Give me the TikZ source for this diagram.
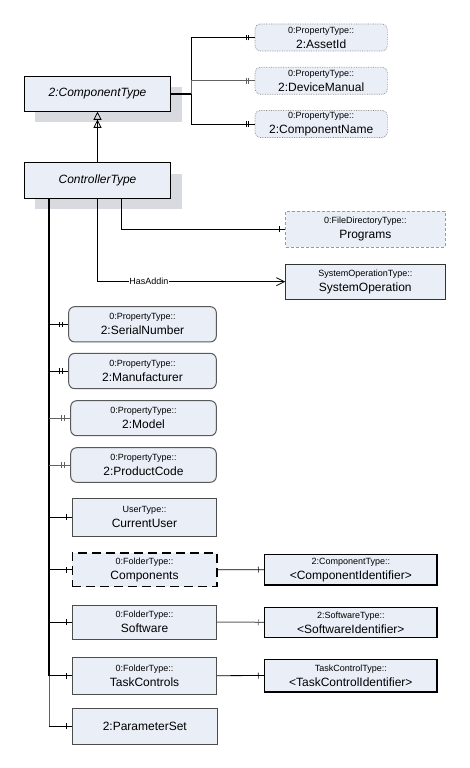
\documentclass[tikz,border=0pt]{standalone}
\usepackage{fontspec}
\setmainfont{Liberation Sans}
\usetikzlibrary{arrows.meta,decorations.markings,shadows}
\definecolor{boxfill}{RGB}{233,238,247}
\definecolor{shadowc}{RGB}{217,218,223}
\newcommand{\mytwo}[2]{{\fontsize{9}{15}\selectfont #1}\\#2}
\begin{document}
\begin{tikzpicture}[x=1pt,y=-1pt,
  base/.style={fill=boxfill,inner sep=0pt,align=center,font=\fontsize{12}{15}\selectfont},
  cls/.style={base,draw=black,line width=0.9pt,minimum width=146.4pt,
    drop shadow={shadow xshift=11pt,shadow yshift=-11pt,fill=shadowc,opacity=1}},
  topp/.style={base,draw=black!45,densely dotted,line width=0.7pt,rounded corners=5pt,
    minimum width=132.3pt,minimum height=27pt},
  dashbox/.style={base,draw=black!40,densely dashed,line width=0.7pt,minimum width=159.3pt},
  solbox/.style={base,draw=black!80,line width=0.8pt,minimum width=159.3pt},
  propbox/.style={base,draw=black!65,line width=1pt,rounded corners=6pt},
  plainbox/.style={base,draw=black!70,line width=0.8pt,minimum width=144.4pt},
  compbox/.style={base,draw=black,line width=1.6pt,dash pattern=on 9pt off 5pt,minimum width=144.4pt},
  idbox/.style={base,draw=black,line width=1.6pt,minimum width=172.3pt},
  conn/.style={draw=black,line width=0.8pt},
  gconn/.style={draw=black!62,line width=1pt},
  dbar/.style={postaction={decorate,decoration={markings,
    mark=at position -6pt with {\draw[solid,line width=0.7pt] (0,-2.8pt) -- (0,2.8pt);},
    mark=at position -8.5pt with {\draw[solid,line width=0.7pt] (0,-2.8pt) -- (0,2.8pt);}}}},
  sbar/.style={postaction={decorate,decoration={markings,
    mark=at position -5.5pt with {\draw[solid,line width=0.7pt] (0,-3pt) -- (0,3pt);}}}},
  lbl/.style={fill=white,inner sep=0.6pt,font=\fontsize{9}{10}\selectfont}
]
\useasboundingbox (0,0) rectangle (469,768);

% classes
\node[cls,minimum height=35pt] (ct) at (97.5,93.8) {\itshape 2:ComponentType};
\node[cls,minimum height=35.3pt] (ctrl) at (97.5,180.3) {\itshape ControllerType};

% top properties
\node[topp] (asset) at (321.2,37.5) {\mytwo{0:PropertyType::}{2:AssetId}};
\node[topp] (devman) at (321.2,80.8) {\mytwo{0:PropertyType::}{2:DeviceManual}};
\node[topp] (cname) at (321.2,124) {\mytwo{0:PropertyType::}{2:ComponentName}};

% programs / system operation
\node[dashbox,minimum height=35.7pt] (prog) at (365.3,229.2) {\mytwo{0:FileDirectoryType::}{Programs}};
\node[solbox,minimum height=35.3pt] (sysop) at (365.3,281.7) {\mytwo{SystemOperationType::}{SystemOperation}};

% properties
\node[propbox,minimum width=147.6pt,minimum height=35.3pt] (sn) at (142.5,324.3) {\mytwo{0:PropertyType::}{2:SerialNumber}};
\node[propbox,minimum width=147.6pt,minimum height=35.3pt] (mf) at (142.5,371) {\mytwo{0:PropertyType::}{2:Manufacturer}};
\node[propbox,minimum width=145.6pt,minimum height=35pt] (model) at (143.5,418.2) {\mytwo{0:PropertyType::}{2:Model}};
\node[propbox,minimum width=145.6pt,minimum height=34.6pt] (pc) at (143.5,465) {\mytwo{0:PropertyType::}{2:ProductCode}};

% objects
\node[plainbox,minimum height=38pt] (cu) at (144.5,517.3) {\mytwo{UserType::}{CurrentUser}};
\node[compbox,minimum height=33.7pt] (comp) at (144.5,569.8) {\mytwo{0:FolderType::}{Components}};
\node[plainbox,minimum height=34pt] (sw) at (144.5,622) {\mytwo{0:FolderType::}{Software}};
\node[plainbox,minimum height=36.7pt] (tc) at (144.5,675.7) {\mytwo{0:FolderType::}{TaskControls}};
\node[plainbox,minimum width=145pt,minimum height=35.3pt] (ps) at (144.8,726.3) {2:ParameterSet};

\node[idbox,minimum height=30.7pt] (compid) at (350.8,569.7) {\mytwo{2:ComponentType::}{<ComponentIdentifier>}};
\node[idbox,minimum height=30pt] (swid) at (350.8,622.3) {\mytwo{2:SoftwareType::}{<SoftwareIdentifier>}};
\node[idbox,minimum height=32.4pt] (tcid) at (350.8,675.5) {\mytwo{TaskControlType::}{<TaskControlIdentifier>}};

% generalization
\draw[conn,-{Triangle[open,length=8pt,width=8pt]Triangle[open,length=8pt,width=8pt]}] (ctrl.north) -- (ct.south);

% ComponentType properties
\coordinate (j1) at (191.3,93.8);
\draw[conn,line width=1.6pt] (ct.east) -- (j1);
\draw[conn,dbar] (j1) |- (asset.west);
\draw[gconn,dbar] (j1) |- (devman.west);
\draw[conn,dbar] (j1) |- (cname.west);

% ControllerType references
\draw[conn,sbar] ([xshift=24.2pt]ctrl.south) |- (prog.west);
\draw[conn,-{Straight Barb[length=8pt,width=8pt]}] (ctrl.south) |- node[lbl,pos=0.637] {HasAddin} (sysop.west);

\coordinate (t0) at (49,198);
\draw[conn,line width=1.8pt] (t0) -- (tc.west -| t0);
\draw[gconn] (tc.west -| t0) -- (ps.west -| t0);
\draw[conn,dbar] (sn.west -| t0) -- (sn.west);
\draw[conn,dbar] (mf.west -| t0) -- (mf.west);
\draw[gconn,dbar] (model.west -| t0) -- (model.west);
\draw[gconn,dbar] (pc.west -| t0) -- (pc.west);
\draw[conn,sbar] (cu.west -| t0) -- (cu.west);
\draw[conn,sbar] (comp.west -| t0) -- (comp.west);
\draw[conn,sbar] (sw.west -| t0) -- (sw.west);
\draw[conn,sbar] (tc.west -| t0) -- (tc.west);
\draw[conn,sbar] (ps.west -| t0) -- (ps.west);

\draw[conn,sbar] (comp.east) -- (compid.west);
\draw[gconn,sbar] (sw.east) -- (swid.west);
\draw[conn,sbar] (tc.east) -- (tcid.west);
\end{tikzpicture}
\end{document}
